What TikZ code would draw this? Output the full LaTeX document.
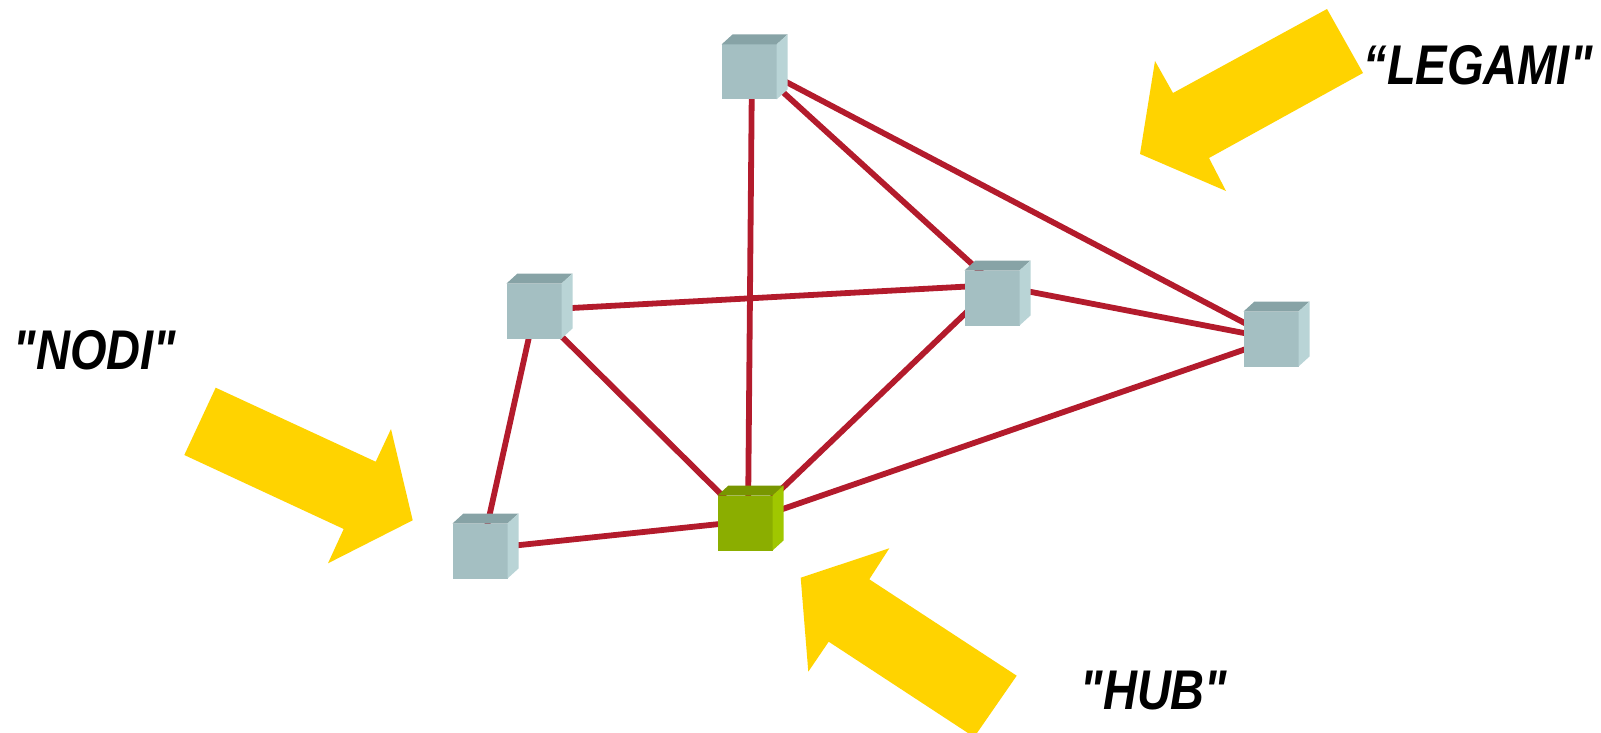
\documentclass[tikz,border=0pt]{standalone}
\usepackage{fontspec}
\setmainfont{Liberation Sans}[Ligatures=TeXOff]
\definecolor{linkred}{HTML}{B31B2C}
\definecolor{arrowyellow}{HTML}{FFD300}
\definecolor{cfront}{HTML}{A4BFC2}
\definecolor{ctop}{HTML}{87A3A6}
\definecolor{cside}{HTML}{B9D4D6}
\definecolor{hfront}{HTML}{8BAE00}
\definecolor{htop}{HTML}{789600}
\definecolor{hside}{HTML}{A0C700}
\tikzset{
  pt/.style={inner sep=0pt, minimum size=0pt},
  link/.style={draw=linkred, line width=5.8pt},
  bigarrow/.style={fill=arrowyellow},
  lbl/.style={font=\fontsize{47}{50}\selectfont\bfseries\itshape, inner sep=0pt, yscale=1.19},
  pics/cube/.style n args={3}{code={
    \fill[#1] (-27.5,-27.5) rectangle (27.5,27.5);
    \fill[#2] (-27.5,-27.5) -- (-16.5,-37.5) -- (38.5,-37.5) -- (27.5,-27.5) -- cycle;
    \fill[#3] (27.5,-27.5) -- (38.5,-37.5) -- (38.5,17.5) -- (27.5,27.5) -- cycle;
  }}
}
\begin{document}
\begin{tikzpicture}[x=1pt,y=-1pt]
\useasboundingbox (0,0) rectangle (1601,733);
\clip (0,0) rectangle (1601,733);
% node link points
\node[pt] (t) at (752,64) {};
\node[pt] (lm) at (535,310) {};
\node[pt] (rm) at (995,285) {};
\node[pt] (fr) at (1275,339) {};
\node[pt] (bl) at (482,549) {};
\node[pt] (hub) at (748,521) {};
% links
\draw[link] (t.center) -- (hub.center);
\draw[link] (t.center) -- (rm.center);
\draw[link] (t.center) -- (fr.center);
\draw[link] (lm.center) -- (rm.center);
\draw[link] (lm.center) -- (bl.center);
\draw[link] (lm.center) -- (hub.center);
\draw[link] (rm.center) -- (fr.center);
\draw[link] (rm.center) -- (hub.center);
\draw[link] (hub.center) -- (fr.center);
\draw[link] (bl.center) -- (hub.center);
% cubes (front-face centres)
\pic at (749,72) {cube={cfront}{ctop}{cside}};
\pic at (534,311) {cube={cfront}{ctop}{cside}};
\pic at (992,298) {cube={cfront}{ctop}{cside}};
\pic at (1271,339) {cube={cfront}{ctop}{cside}};
\pic at (480,551) {cube={cfront}{ctop}{cside}};
\pic at (745,523) {cube={hfront}{htop}{hside}};
% yellow arrows
\fill[bigarrow] (1327,9) -- (1363,73) -- (1209,158) -- (1226,191) -- (1140,154) -- (1155,61) -- (1173,93) -- cycle;
\fill[bigarrow] (215.7,387.7) -- (184.3,455) -- (343.7,529) -- (328,563.3) -- (412.7,520.3) -- (391,429) -- (375.7,461.7) -- cycle;
\fill[bigarrow] (800.7,577.7) -- (808.3,671.7) -- (828.7,641.7) -- (968,733) -- (977,733) -- (1016.7,675.7) -- (869.3,579.3) -- (889.3,548.3) -- cycle;
% labels
\node[lbl] (legami) at (1478,65) {“LEGAMI"};
\node[lbl] (nodi) at (95,350) {"NODI"};
\node[lbl] (hubl) at (1154,691) {"HUB"};
\end{tikzpicture}
\end{document}
